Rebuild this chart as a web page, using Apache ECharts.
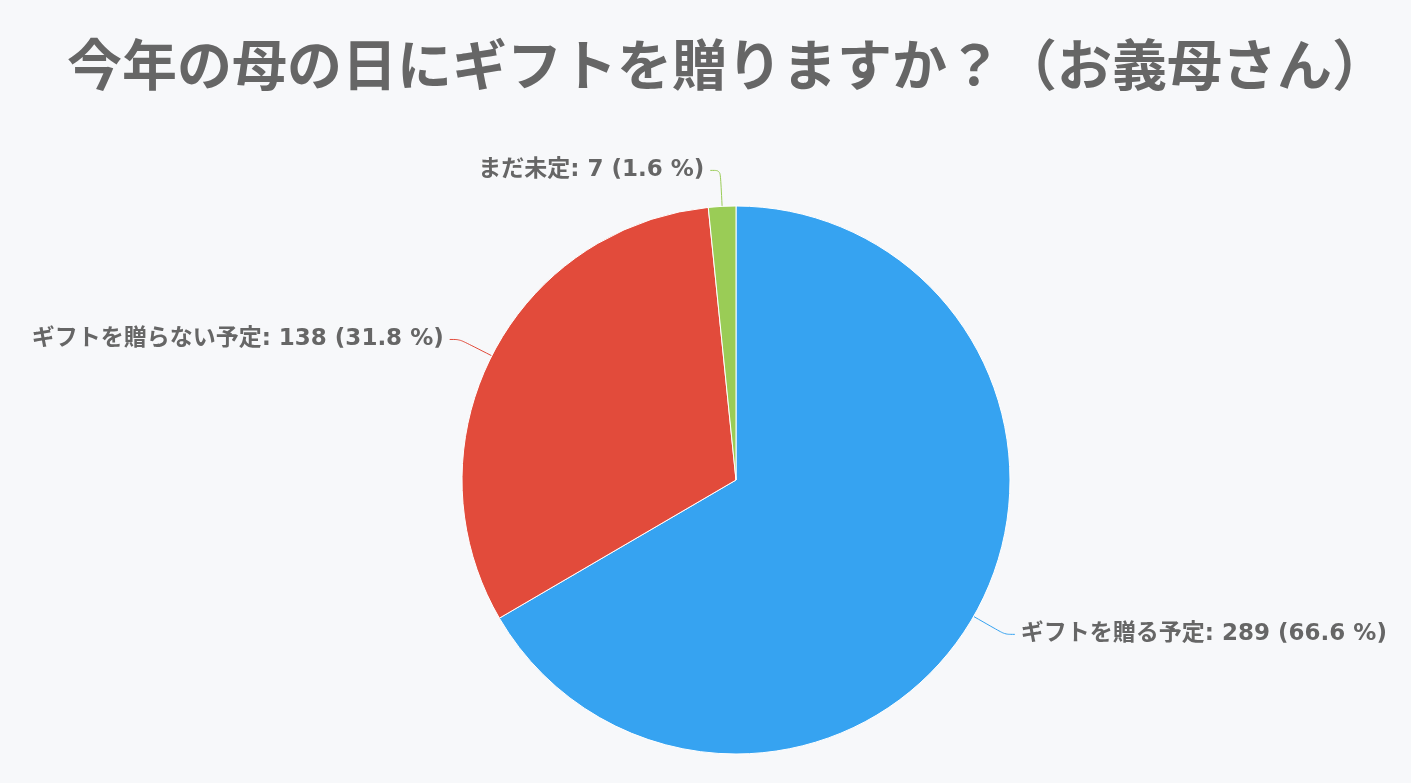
<!DOCTYPE html>
<html><head><meta charset="utf-8">
<script src="https://cdn.jsdelivr.net/npm/echarts@6/dist/echarts.min.js"></script>
<style>html,body{margin:0;padding:0;background:#f7f8fa;}#c{width:1411px;height:783px;}</style>
</head><body><div id="c"></div>
<script>
const titleText = '今年の母の日にギフトを贈りますか？（お義母さん）';
const categories = ['ギフトを贈る予定', 'ギフトを贈らない予定', 'まだ未定'];
const values = [289, 138, 7];
const colors = ['#36a3f1', '#e24b3b', '#9acc56'];

const chart = echarts.init(document.getElementById('c'));
chart.setOption({
  backgroundColor: '#f7f8fa',
  title: {
    text: titleText,
    left: 62,
    top: 32,
    textStyle: { fontFamily: 'Noto Sans CJK JP', fontSize: 55, fontWeight: 'bold', color: '#666666' }
  },
  series: [{
    type: 'pie',
    center: [736, 480],
    radius: 274,
    startAngle: 90,
    clockwise: true,
    percentPrecision: 1,
    data: categories.map((n, i) => ({ name: n, value: values[i], itemStyle: { color: colors[i] } })),
    itemStyle: { borderColor: '#ffffff', borderWidth: 1 },
    label: {
      formatter: '{b}: {c} ({d} %)',
      fontFamily: '"DejaVu Sans", "Noto Sans CJK JP"',
      fontSize: 23,
      fontWeight: 'bold',
      color: '#666666',
      distanceToLabelLine: 6
    },
    labelLine: { length: 36, length2: 10, smooth: true, lineStyle: { width: 1 } }
  }]
});
</script></body></html>
